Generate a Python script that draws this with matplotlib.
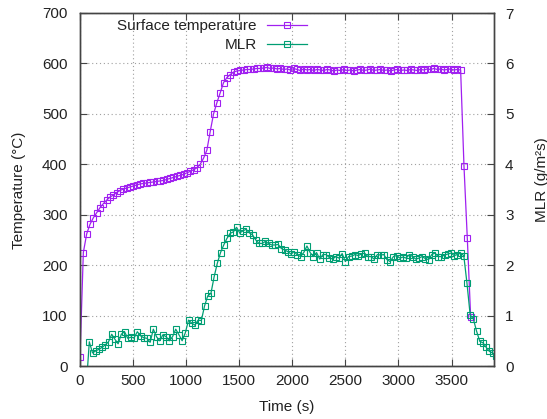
import numpy as np
import matplotlib
matplotlib.use("Agg")
import matplotlib.pyplot as plt

plt.rcParams['font.family'] = ['Liberation Sans', 'DejaVu Sans']
plt.rcParams['font.size'] = 11

# Surface temperature (deg C), sampled every ~31.5 s from 0 to 3680 s
temp_t = np.linspace(0, 3680, 118)
temp = [18, 225, 262, 281, 294, 304, 314, 322, 329, 335,
        339, 344, 348, 351, 353, 355, 357, 359, 361, 362,
        363, 364, 365, 366, 367, 368, 370, 372, 374, 376,
        378, 380, 383, 386, 389, 393, 400, 412, 428, 465,
        500, 522, 542, 562, 572, 578, 583, 585, 586, 587,
        588, 588, 589, 590, 590, 591, 592, 590, 591, 589,
        590, 588, 589, 587, 590, 588, 586, 589, 587, 588,
        586, 588, 587, 586, 588, 587, 585, 587, 586, 588,
        586, 587, 585, 587, 588, 586, 587, 589, 586, 587,
        588, 586, 587, 585, 587, 588, 586, 587, 586, 588,
        587, 586, 588, 587, 589, 588, 590, 588, 589, 587,
        588, 589, 587, 588, 587, 397, 253, 98]

# Mass loss rate (g/m2s), sampled every ~30 s
mlr_t = np.linspace(57.6, 3916.8, 129)
mlr = [-0.45, 0.48, 0.26, 0.30, 0.33, 0.37, 0.42, 0.48, 0.63, 0.53,
       0.44, 0.63, 0.68, 0.55, 0.57, 0.56, 0.68, 0.60, 0.56, 0.55,
       0.47, 0.73, 0.58, 0.50, 0.62, 0.58, 0.50, 0.58, 0.73, 0.62,
       0.50, 0.66, 0.91, 0.85, 0.81, 0.91, 0.90, 1.19, 1.39, 1.44,
       1.77, 2.04, 2.25, 2.40, 2.53, 2.63, 2.66, 2.75, 2.64, 2.68,
       2.71, 2.64, 2.60, 2.50, 2.43, 2.43, 2.47, 2.43, 2.40, 2.40,
       2.41, 2.33, 2.30, 2.27, 2.22, 2.27, 2.20, 2.17, 2.25, 2.38,
       2.25, 2.17, 2.25, 2.12, 2.21, 2.21, 2.15, 2.12, 2.17, 2.14,
       2.23, 2.07, 2.17, 2.18, 2.21, 2.19, 2.22, 2.24, 2.17, 2.17,
       2.12, 2.21, 2.20, 2.21, 2.11, 2.07, 2.17, 2.19, 2.14, 2.16,
       2.14, 2.21, 2.17, 2.12, 2.14, 2.17, 2.13, 2.11, 2.21, 2.24,
       2.17, 2.17, 2.20, 2.22, 2.24, 2.19, 2.21, 2.24, 2.19, 1.64,
       1.01, 0.93, 0.69, 0.49, 0.46, 0.37, 0.29, 0.26, 0.20]

purple = '#a020f0'
green = '#009e73'
txt = '#222222'

W, H = 547, 419
fig = plt.figure(figsize=(W / 100, H / 100), dpi=100)
ax = fig.add_axes([80 / W, 1 - 366 / H, (494 - 80) / W, (366 - 13) / H])
ax2 = ax.twinx()

l1, = ax.plot(temp_t, temp, color=purple, lw=0.9, marker='s', ms=5,
              mfc='none', mec=purple, mew=0.8, label='Surface temperature')
l2, = ax2.plot(mlr_t, mlr, color=green, lw=0.9, marker='s', ms=5,
               mfc='none', mec=green, mew=0.8, label='MLR')

ax.set_xlim(0, 3900)
ax.set_ylim(0, 700)
ax2.set_ylim(0, 7)
ax.set_xticks(range(0, 3501, 500))
ax.set_yticks(range(0, 701, 100))
ax2.set_yticks(range(0, 8))

ax.grid(True, color='#a0a0a0', lw=0.8, linestyle=(0, (1, 2.5)))
ax.set_axisbelow(True)

ax.tick_params(direction='in', length=5, width=0.8, top=True, colors='#444444',
               labelcolor=txt, labelsize=11)
ax.tick_params(axis='x', pad=6)
ax.tick_params(axis='y', pad=9)
ax2.tick_params(direction='in', length=5, width=0.8, colors='#444444',
                labelcolor=txt, labelsize=11, pad=8)
for a in (ax, ax2):
    for s in a.spines.values():
        s.set_color('#444444')
        s.set_linewidth(1.0)

fig.text(19 / W, 1 - 190 / H, 'Temperature (°C)', rotation=90,
         ha='center', va='center', color=txt)
fig.text(542 / W, 1 - 180 / H, 'MLR (g/m²s)', rotation=90,
         ha='center', va='center', color=txt)
fig.text(287 / W, 1 - 407 / H, 'Time (s)', ha='center', va='center', color=txt)

ax2.legend(handles=[l1, l2], loc='upper right', bbox_to_anchor=(307 / W, 1 - 19 / H),
           bbox_transform=fig.transFigure, frameon=False, markerfirst=False,
           handlelength=2.6, labelspacing=0.32, borderpad=0, borderaxespad=0,
           handletextpad=0.7, fontsize=11, labelcolor=txt)

fig.savefig('out.png', dpi=100)
